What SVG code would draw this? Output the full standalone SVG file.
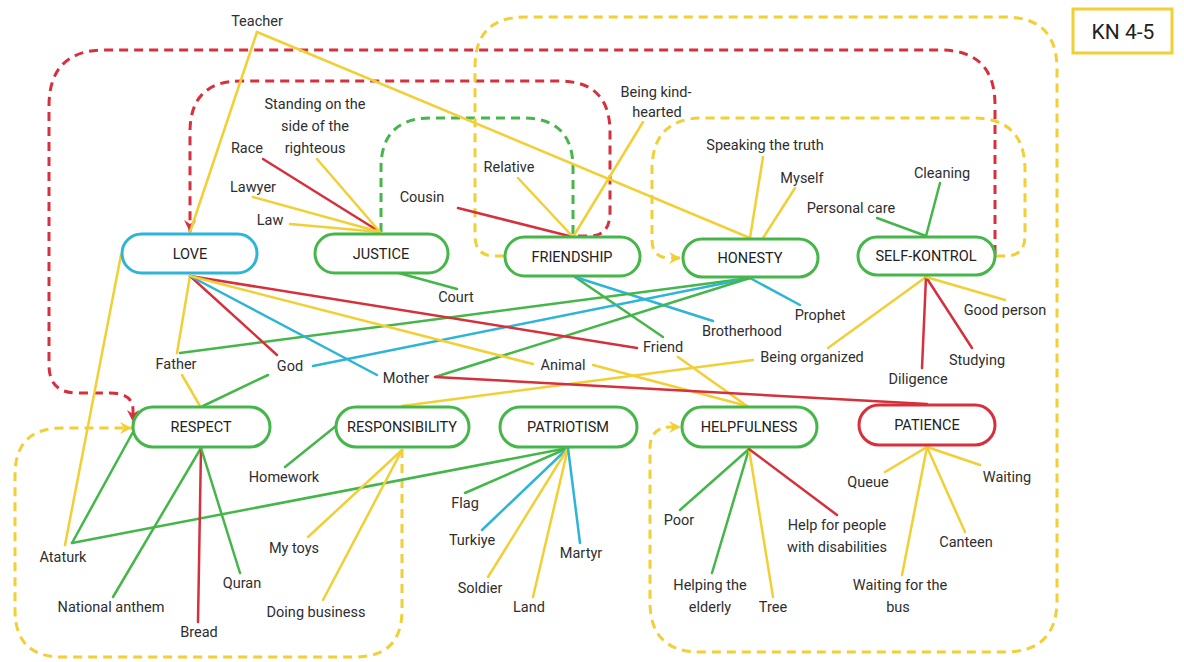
<svg xmlns="http://www.w3.org/2000/svg" width="1184" height="662" viewBox="0 0 1184 662">
<defs>
<style>
.t{font-family:Roboto,"Liberation Sans",sans-serif;font-size:14.5px;fill:#2e2e2e;text-anchor:middle}
.nt{font-family:Roboto,"Liberation Sans",sans-serif;font-size:14.5px;fill:#222;text-anchor:middle}
.n{fill:#fff;stroke-width:3}
.gN{stroke:#45b649}.bN{stroke:#2db4d7}.rN{stroke:#d6303c}
.l{fill:none;stroke-width:2.5;stroke-linecap:round}
.g{stroke:#45b649}.y{stroke:#f1cf35}.r{stroke:#d6303c}.b{stroke:#2db4d7}
.d{fill:none;stroke-width:3;stroke-dasharray:9 6}
</style>
<marker id="ar" markerUnits="userSpaceOnUse" markerWidth="13" markerHeight="12" refX="12" refY="6" orient="auto"><path d="M0,0 L12,6 L0,12 L4,6 Z" fill="#d6303c"/></marker>
<marker id="ay" markerUnits="userSpaceOnUse" markerWidth="13" markerHeight="12" refX="12" refY="6" orient="auto"><path d="M0,0 L12,6 L0,12 L4,6 Z" fill="#f1cf35"/></marker>
</defs>
<rect width="1184" height="662" fill="#fff"/>

<g id="title"><rect x="1073" y="9" width="99" height="44" fill="#fff" stroke="#f1cf35" stroke-width="3"/><text x="1123" y="39" class="t" style="font-size:21px;fill:#222">KN 4-5</text></g>

<g id="connectors">
<path class="d r" d="M995,254 L995,105 Q995,50 940,50 L105,50 Q49,50 49,106 L49,365 Q49,393 77,393 L110,393 Q133,393 133,410 L133,422" marker-end="url(#ar)"/>
<path class="d r" d="M578,236 L590,236 Q610,236 610,212 L610,132 Q610,81 559,81 L241,81 Q190,81 190,132 L190,232" marker-end="url(#ar)"/>
<path class="d g" d="M381,232 L381,168 Q381,118 431,118 L523,118 Q573,118 573,168 L573,235"/>
<path class="d y" d="M504,256 L495,256 Q475,256 475,236 L475,67 Q475,17 525,17 L1005,17 Q1057,17 1057,69 L1057,600 Q1057,652 1005,652 L700,652 Q650,652 650,602 L650,448 Q650,427 671,427 L681,427" marker-end="url(#ay)"/>
<path class="d y" d="M996,256 L1005,256 Q1025,256 1025,236 L1025,170 Q1025,118 973,118 L703,118 Q652,118 652,170 L652,240 Q652,258 670,258 L681,258" marker-end="url(#ay)"/>
<path class="d y" d="M402,449 L402,610 Q402,657 355,657 L62,657 Q15,657 15,610 L15,475 Q15,428 62,428 L132,428" marker-end="url(#ay)"/>

<line class="l y" x1="257" y1="32" x2="190" y2="232"/>
<line class="l y" x1="257" y1="32" x2="750" y2="238"/>
<line class="l y" x1="121" y1="255" x2="65" y2="545"/>
<line class="l r" x1="263" y1="159" x2="380" y2="232"/>
<line class="l y" x1="317" y1="159" x2="380" y2="232"/>
<line class="l y" x1="253" y1="197" x2="380" y2="232"/>
<line class="l y" x1="290" y1="224" x2="380" y2="232"/>
<line class="l g" x1="395" y1="272" x2="457" y2="289"/>
<line class="l r" x1="458" y1="208" x2="573" y2="237"/>
<line class="l y" x1="518" y1="178" x2="573" y2="237"/>
<line class="l y" x1="643" y1="122" x2="573" y2="237"/>
<line class="l g" x1="575" y1="277" x2="663" y2="337"/>
<line class="l b" x1="575" y1="277" x2="713" y2="321"/>
<line class="l y" x1="763" y1="157" x2="750" y2="238"/>
<line class="l y" x1="795" y1="188" x2="763" y2="238"/>
<line class="l b" x1="750" y1="278" x2="800" y2="305"/>
<line class="l g" x1="750" y1="278" x2="180" y2="353"/>
<line class="l b" x1="750" y1="278" x2="313" y2="366"/>
<line class="l g" x1="750" y1="278" x2="435" y2="377"/>
<line class="l g" x1="940" y1="183" x2="926" y2="236"/>
<line class="l g" x1="877" y1="218" x2="926" y2="236"/>
<line class="l y" x1="828" y1="348" x2="926" y2="277"/>
<line class="l r" x1="922" y1="368" x2="926" y2="277"/>
<line class="l r" x1="972" y1="348" x2="926" y2="277"/>
<line class="l y" x1="1005" y1="300" x2="926" y2="277"/>
<line class="l y" x1="753" y1="360" x2="402" y2="406"/>
<line class="l y" x1="190" y1="276" x2="177" y2="353"/>
<line class="l y" x1="182" y1="375" x2="200" y2="406"/>
<line class="l r" x1="190" y1="276" x2="277" y2="355"/>
<line class="l b" x1="190" y1="276" x2="377" y2="375"/>
<line class="l r" x1="190" y1="276" x2="637" y2="348"/>
<line class="l y" x1="190" y1="276" x2="533" y2="364"/>
<line class="l g" x1="268" y1="375" x2="203" y2="406"/>
<line class="l y" x1="678" y1="357" x2="747" y2="406"/>
<line class="l y" x1="593" y1="365" x2="747" y2="406"/>
<line class="l r" x1="435" y1="377" x2="927" y2="404"/>
<line class="l g" x1="336" y1="426" x2="285" y2="467"/>
<line class="l g" x1="72" y1="543" x2="133" y2="432"/>
<line class="l g" x1="72" y1="543" x2="568" y2="448"/>
<line class="l g" x1="113" y1="597" x2="201" y2="448"/>
<line class="l r" x1="198" y1="622" x2="201" y2="448"/>
<line class="l g" x1="240" y1="573" x2="201" y2="448"/>
<line class="l y" x1="308" y1="537" x2="402" y2="450"/>
<line class="l y" x1="323" y1="600" x2="402" y2="450"/>
<line class="l g" x1="465" y1="493" x2="568" y2="448"/>
<line class="l b" x1="482" y1="530" x2="568" y2="448"/>
<line class="l y" x1="488" y1="577" x2="568" y2="448"/>
<line class="l y" x1="533" y1="597" x2="568" y2="448"/>
<line class="l b" x1="580" y1="543" x2="568" y2="448"/>
<line class="l g" x1="680" y1="510" x2="749" y2="449"/>
<line class="l g" x1="712" y1="573" x2="749" y2="449"/>
<line class="l y" x1="773" y1="597" x2="749" y2="449"/>
<line class="l r" x1="837" y1="515" x2="749" y2="449"/>
<line class="l y" x1="885" y1="472" x2="927" y2="447"/>
<line class="l y" x1="980" y1="465" x2="927" y2="447"/>
<line class="l y" x1="965" y1="532" x2="927" y2="447"/>
<line class="l y" x1="902" y1="575" x2="927" y2="447"/>
</g>

<g id="love"><rect class="n bN" x="122" y="234" width="135" height="39" rx="19.5"/><text class="nt" x="190" y="259">LOVE</text></g>
<g id="justice"><rect class="n gN" x="315" y="234" width="133" height="39" rx="19.5"/><text class="nt" x="381" y="259">JUSTICE</text></g>
<g id="friendship"><rect class="n gN" x="505" y="237" width="135" height="39" rx="19.5"/><text class="nt" x="572" y="262">FRIENDSHIP</text></g>
<g id="honesty"><rect class="n gN" x="683" y="239" width="135" height="38" rx="19"/><text class="nt" x="750" y="263">HONESTY</text></g>
<g id="self-kontrol"><rect class="n gN" x="858" y="237" width="137" height="38" rx="19"/><text class="nt" x="926" y="261">SELF-KONTROL</text></g>
<g id="respect"><rect class="n gN" x="133" y="407" width="137" height="40" rx="20"/><text class="nt" x="201" y="432">RESPECT</text></g>
<g id="responsibility"><rect class="n gN" x="336" y="407" width="133" height="40" rx="20"/><text class="nt" x="402" y="432">RESPONSIBILITY</text></g>
<g id="patriotism"><rect class="n gN" x="500" y="407" width="137" height="40" rx="20"/><text class="nt" x="568" y="432">PATRIOTISM</text></g>
<g id="helpfulness"><rect class="n gN" x="682" y="407" width="135" height="40" rx="20"/><text class="nt" x="749" y="432">HELPFULNESS</text></g>
<g id="patience"><rect class="n rN" x="859" y="405" width="136" height="40" rx="20"/><text class="nt" x="927" y="430">PATIENCE</text></g>

<g id="labels">
<text class="t" x="257" y="26">Teacher</text>
<text class="t" x="315" y="109">Standing on the</text>
<text class="t" x="315" y="131">side of the</text>
<text class="t" x="315" y="153">righteous</text>
<text class="t" x="247" y="153">Race</text>
<text class="t" x="253" y="192">Lawyer</text>
<text class="t" x="270" y="225">Law</text>
<text class="t" x="456" y="302">Court</text>
<text class="t" x="422" y="202">Cousin</text>
<text class="t" x="509" y="172">Relative</text>
<text class="t" x="656" y="97">Being kind-</text>
<text class="t" x="657" y="117">hearted</text>
<text class="t" x="765" y="150">Speaking the truth</text>
<text class="t" x="802" y="183">Myself</text>
<text class="t" x="942" y="178">Cleaning</text>
<text class="t" x="851" y="213">Personal care</text>
<text class="t" x="820" y="320">Prophet</text>
<text class="t" x="742" y="336">Brotherhood</text>
<text class="t" x="1005" y="315">Good person</text>
<text class="t" x="663" y="352">Friend</text>
<text class="t" x="812" y="362">Being organized</text>
<text class="t" x="977" y="365">Studying</text>
<text class="t" x="918" y="384">Diligence</text>
<text class="t" x="176" y="369">Father</text>
<text class="t" x="290" y="371">God</text>
<text class="t" x="406" y="383">Mother</text>
<text class="t" x="563" y="370">Animal</text>
<text class="t" x="284" y="482">Homework</text>
<text class="t" x="63" y="562">Ataturk</text>
<text class="t" x="111" y="612">National anthem</text>
<text class="t" x="199" y="637">Bread</text>
<text class="t" x="242" y="588">Quran</text>
<text class="t" x="294" y="553">My toys</text>
<text class="t" x="316" y="617">Doing business</text>
<text class="t" x="465" y="508">Flag</text>
<text class="t" x="472" y="545">Turkiye</text>
<text class="t" x="480" y="593">Soldier</text>
<text class="t" x="529" y="612">Land</text>
<text class="t" x="581" y="558">Martyr</text>
<text class="t" x="679" y="525">Poor</text>
<text class="t" x="710" y="590">Helping the</text>
<text class="t" x="710" y="612">elderly</text>
<text class="t" x="773" y="612">Tree</text>
<text class="t" x="837" y="530">Help for people</text>
<text class="t" x="837" y="552">with disabilities</text>
<text class="t" x="868" y="487">Queue</text>
<text class="t" x="1007" y="482">Waiting</text>
<text class="t" x="966" y="547">Canteen</text>
<text class="t" x="900" y="590">Waiting for the</text>
<text class="t" x="898" y="612">bus</text>
</g>
</svg>
